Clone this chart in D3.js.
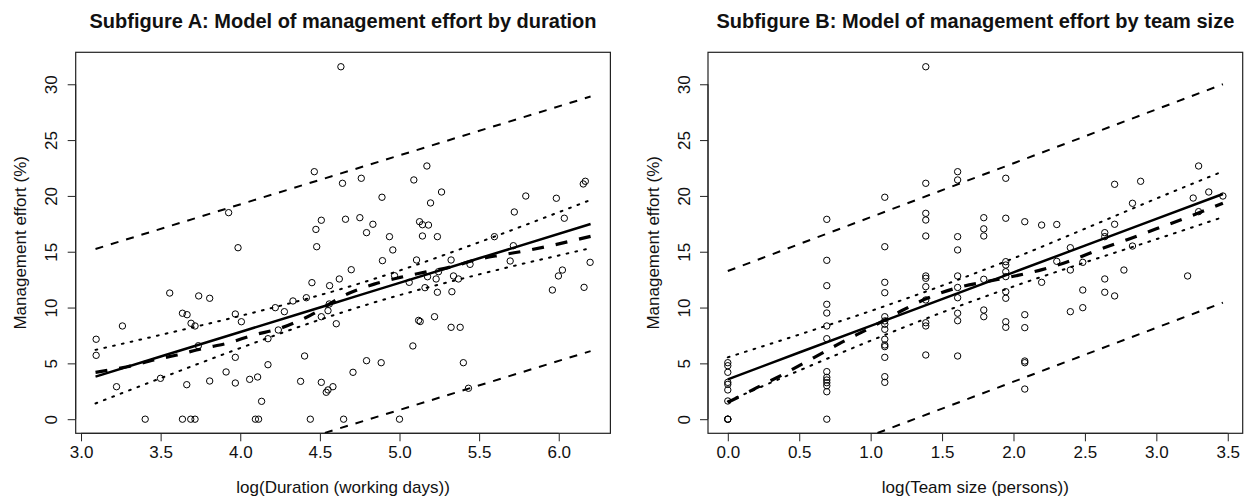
<!DOCTYPE html>
<html><head><meta charset="utf-8">
<script src="https://cdn.jsdelivr.net/npm/d3@7"></script>
<style>
body{margin:0;background:#fff}
text{font-family:"Liberation Sans",Arial,Helvetica,sans-serif;fill:#111}
</style>
</head><body>
<svg id="chart" width="1247" height="499"></svg>
<script>
// ---------- data ----------
const titleA = "Subfigure A: Model of management effort by duration";
const titleB = "Subfigure B: Model of management effort by team size";
const xLabelA = "log(Duration (working days))";
const xLabelB = "log(Team size (persons))";
const yLabel = "Management effort (%)";
const yTicks = [0, 5, 10, 15, 20, 25, 30];
const xTicksA = [3.0, 3.5, 4.0, 4.5, 5.0, 5.5, 6.0];
const xTicksB = [0.0, 0.5, 1.0, 1.5, 2.0, 2.5, 3.0, 3.5];

// Subfigure A points: log(duration), effort
const durLog = [4.632,4.465,4.642,4.760,4.890,5.090,5.172,5.264,5.195,4.509,4.661,4.751,4.833,5.126,5.144,5.182,4.475,5.721,5.793,5.985,6.035,6.154,6.167,3.927,4.48,3.986,4.450,4.415,3.557,3.739,3.808,4.331,4.277,4.220,3.637,3.666,3.691,3.716,3.969,4.007,3.260,3.095,3.095,3.737,4.174,4.239,4.509,4.404,3.969,4.174,3.911,3.499,3.664,3.808,3.969,4.059,4.109,4.379,4.509,3.223,4.134,3.403,3.637,3.689,3.716,4.095,4.115,4.44,4.649,5.0,4.793,4.937,4.958,5.144,5.238,5.596,5.715,5.695,6.197,4.893,5.107,5.324,4.697,4.622,4.561,4.969,5.061,5.176,5.245,5.230,5.339,5.370,5.443,5.16,5.238,5.329,4.559,4.551,4.603,5.12,5.13,5.22,5.324,5.381,5.084,5.960,6.023,5.998,6.159,4.793,4.885,4.708,5.401,4.582,4.551,4.54,5.433];
const durEffort = [31.57,22.17,21.13,21.58,19.88,21.43,22.68,20.35,19.37,17.82,17.91,18.05,17.46,17.69,17.42,17.39,17.0,18.56,19.99,19.79,18.0,21.07,21.31,18.5,15.45,15.36,12.23,10.88,11.30,11.04,10.83,10.59,9.63,9.99,9.49,9.36,8.59,8.35,9.42,8.73,8.35,7.16,5.72,6.58,7.21,7.99,9.18,5.66,5.54,4.88,4.23,3.66,3.09,3.42,3.24,3.57,3.78,3.39,3.3,2.91,1.6,0,0,0,0,0,0,0,0,0,16.71,16.35,15.16,16.41,16.35,16.35,15.54,14.17,14.05,14.2,14.26,14.26,13.39,12.56,11.96,12.85,12.26,12.76,13.21,12.56,12.83,12.56,13.87,11.78,11.37,11.42,10.32,9.72,8.55,8.85,8.75,9.18,8.23,8.23,6.56,11.57,13.36,12.83,11.81,5.24,5.06,4.2,5.06,2.91,2.62,2.41,2.77];

// Subfigure B points: log(team size), effort
const teamLog = [0,0,0,0,0,0,0,0,0,0,
 0.693,0.693,0.693,0.693,0.693,0.693,0.693,0.693,0.693,0.693,0.693,0.693,0.693,0.693,
 1.099,1.099,1.099,1.099,1.099,1.099,1.099,1.099,1.099,1.099,1.099,1.099,1.099,1.099,
 1.386,1.386,1.386,1.386,1.386,1.386,1.386,1.386,1.386,1.386,1.386,1.386,
 1.609,1.609,1.609,1.609,1.609,1.609,1.609,1.609,1.609,1.609,
 1.792,1.792,1.792,1.792,1.792,1.792,
 1.946,1.946,1.946,1.946,1.946,1.946,1.946,1.946,1.946,1.946,
 2.079,2.079,2.079,2.079,2.079,2.079,
 2.197,2.197,2.303,2.303,2.398,2.398,2.398,2.485,2.485,2.485,
 2.639,2.639,2.639,2.639,2.708,2.708,2.708,2.773,2.833,2.833,2.890,
 3.219,3.258,3.296,3.296,3.367,3.466];
const teamEffort = [5.06,4.79,4.2,3.3,3.12,2.62,1.63,0,0,0,
 17.9,14.23,11.96,10.29,9.51,8.35,7.21,4.26,3.75,3.51,3.27,3.0,2.46,0,
 19.88,15.45,12.26,11.33,9.18,8.8,8.5,8.05,7.16,6.65,6.5,5.54,3.81,3.3,
 31.57,21.13,18.44,17.84,16.41,12.83,12.62,11.87,10.68,8.64,8.35,5.75,
 22.17,21.43,16.35,15.16,12.83,11.8,10.88,9.49,8.82,5.66,
 18.05,17.05,16.41,12.53,9.78,9.18,
 21.58,18.0,14.11,13.81,13.21,12.77,11.42,10.83,8.73,8.23,
 17.69,9.36,8.2,5.21,5.06,2.7,
 17.39,12.26,17.44,14.14,15.36,13.36,9.63,14.05,11.57,9.99,
 16.71,16.35,12.56,11.37,21.04,17.46,11.04,13.36,19.34,15.51,21.31,
 12.83,19.81,22.68,18.59,20.35,19.99];

// Subfigure A fitted lines
const fitA_x = [3.091, 3.5, 4.0, 4.5, 4.75, 5.0, 5.5, 6.2];
const fitA_y = [3.81, 5.61, 7.81, 10.01, 11.11, 12.21, 14.41, 17.48];
const confA_up = [6.21, 7.55, 9.25, 11.11, 12.16, 13.31, 15.85, 19.64];
const confA_lo = [1.41, 3.67, 6.37, 8.91, 10.06, 11.11, 12.97, 15.32];
const predA_x = [3.091, 6.2];
const predA_up = [15.25, 28.9];
const predA_lo = [-7.55, 6.1];
const smoothA_x = [3.091, 3.29, 3.457, 3.603, 3.77, 3.917, 4.084, 4.25, 4.41, 4.686, 4.841, 5.004, 5.168, 5.329, 5.486, 5.653, 5.82, 5.987, 6.133, 6.2];
const smoothA_y = [4.2, 4.7, 5.3, 5.75, 6.35, 6.8, 7.54, 8.14, 9.09, 11.3, 12.1, 12.7, 13.19, 13.66, 14.3, 14.74, 15.16, 15.66, 16.15, 16.38];

// Subfigure B fitted lines
const fitB_x = [0, 0.5, 1.0, 1.5, 2.0, 2.5, 3.0, 3.466];
const fitB_y = [3.57, 5.97, 8.36, 10.76, 13.15, 15.55, 17.94, 20.17];
const confB_up = [5.54, 7.58, 9.69, 11.96, 14.41, 17.06, 19.76, 22.2];
const confB_lo = [1.6, 4.36, 7.03, 9.56, 11.89, 14.04, 16.12, 18.1];
const predB_x = [0, 3.466];
const predB_up = [13.27, 30.0];
const predB_lo = [-6.3, 10.44];
const smoothB_x = [0, 0.2, 0.4, 0.6, 0.8, 1.0, 1.2, 1.4, 1.6, 1.8, 2.0, 2.2, 2.4, 2.6, 2.8, 3.0, 3.2, 3.466];
const smoothB_y = [1.5, 2.8, 4.1, 5.5, 6.9, 8.2, 9.6, 10.85, 11.75, 12.3, 12.8, 13.4, 14.2, 15.2, 16.1, 17.05, 18.0, 19.35];

// ---------- drawing ----------
const svg = d3.select("#chart");
const yDomain = [-1.264, 32.864];

function panel(opt) {
  const x = d3.scaleLinear().domain(opt.xDomain).range([opt.left, opt.right]);
  const y = d3.scaleLinear().domain(yDomain).range([433.3, 52.3]);
  const g = svg.append("g");
  const clipId = "clip" + opt.id;
  svg.append("clipPath").attr("id", clipId).append("rect")
    .attr("x", opt.left).attr("y", 52.3).attr("width", opt.right - opt.left).attr("height", 381);

  g.append("text").attr("x", (opt.left + opt.right) / 2).attr("y", 28)
    .attr("text-anchor", "middle").attr("font-weight", "bold").attr("font-size", 20)
    .text(opt.title);

  const xAxis = g.append("g").attr("transform", `translate(0,433.3)`)
    .call(d3.axisBottom(x).tickValues(opt.xTicks).tickFormat(d3.format(".1f")).tickSize(8).tickPadding(5));
  xAxis.select(".domain").attr("d", `M${x(opt.xTicks[0])},0H${x(opt.xTicks[opt.xTicks.length-1])}`);
  xAxis.selectAll("text").attr("font-size", 17).attr("font-family", "Liberation Sans, Arial, sans-serif").attr("fill", "#111");
  xAxis.selectAll("line,path").attr("stroke", "#222");

  const yAxis = g.append("g").attr("transform", `translate(${opt.left},0)`)
    .call(d3.axisLeft(y).tickValues(yTicks).tickSize(8).tickFormat(d3.format("d")));
  yAxis.select(".domain").attr("d", `M0,${y(0)}V${y(30)}`);
  yAxis.selectAll("line,path").attr("stroke", "#222");
  yAxis.selectAll("text")
    .attr("font-size", 17).attr("font-family", "Liberation Sans, Arial, sans-serif").attr("fill", "#111")
    .attr("x", null).attr("dy", null)
    .attr("text-anchor", "middle")
    .attr("transform", `translate(-18.5,0) rotate(-90)`);

  g.append("text").attr("x", (opt.left + opt.right) / 2).attr("y", 493)
    .attr("text-anchor", "middle").attr("font-size", 17).text(opt.xLabel);
  g.append("text").attr("transform", `translate(${opt.left - 49.5},${(52.3 + 433.3) / 2}) rotate(-90)`)
    .attr("text-anchor", "middle").attr("font-size", 17).text(yLabel);

  g.append("rect").attr("x", opt.left).attr("y", 52.3)
    .attr("width", opt.right - opt.left).attr("height", 381)
    .attr("fill", "none").attr("stroke", "#222").attr("stroke-width", 1.2);

  const lines = g.append("g").attr("clip-path", `url(#${clipId})`);
  const lineGen = d3.line().x(d => x(d[0])).y(d => y(d[1]));
  const curveGen = d3.line().x(d => x(d[0])).y(d => y(d[1])).curve(d3.curveMonotoneX);

  const draw = (xs, ys, gen, width, dash) => lines.append("path")
    .attr("d", gen(d3.zip(xs, ys))).attr("fill", "none").attr("stroke", "#000")
    .attr("stroke-width", width).attr("stroke-dasharray", dash);

  draw(opt.predX, opt.predUp, lineGen, 2, "8,8");
  draw(opt.predX, opt.predLo, lineGen, 2, "8,8");
  draw(opt.fitX, opt.confUp, curveGen, 2, "1.8,7.2").attr("stroke-linecap", "round");
  draw(opt.fitX, opt.confLo, curveGen, 2, "1.8,7.2").attr("stroke-linecap", "round");
  draw(opt.fitX, opt.fitY, lineGen, 2.5, null);
  draw(opt.smX, opt.smY, curveGen, 3.2, "12,12");

  g.append("g").selectAll("circle").data(d3.zip(opt.px, opt.py)).join("circle")
    .attr("cx", d => x(d[0])).attr("cy", d => y(d[1])).attr("r", 3.2)
    .attr("fill", "none").attr("stroke", "#000").attr("stroke-width", 1);
}

panel({id: "A", left: 75.7, right: 610.4, xDomain: [2.9666, 6.3244], xTicks: xTicksA,
  title: titleA, xLabel: xLabelA, px: durLog, py: durEffort,
  fitX: fitA_x, fitY: fitA_y, confUp: confA_up, confLo: confA_lo,
  predX: predA_x, predUp: predA_up, predLo: predA_lo, smX: smoothA_x, smY: smoothA_y});

panel({id: "B", left: 708, right: 1242.7, xDomain: [-0.1386, 3.6046], xTicks: xTicksB,
  title: titleB, xLabel: xLabelB, px: teamLog, py: teamEffort,
  fitX: fitB_x, fitY: fitB_y, confUp: confB_up, confLo: confB_lo,
  predX: predB_x, predUp: predB_up, predLo: predB_lo, smX: smoothB_x, smY: smoothB_y});
</script>
</body></html>
